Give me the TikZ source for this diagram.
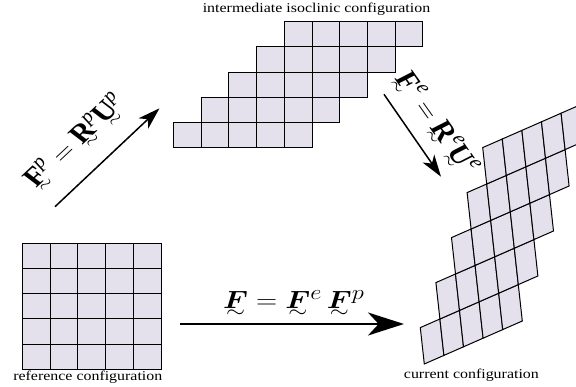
\documentclass[tikz,border=0pt]{standalone}
\usepackage{amsmath,bm}
\usepackage{graphicx}
\usepackage{fontspec}
\setmainfont{Liberation Serif}
\usetikzlibrary{arrows.meta}
\definecolor{cellfill}{RGB}{229,225,236}
\newcommand{\hstretch}[1]{\scalebox{1.18}[1]{#1}}
\newcommand{\ut}[1]{\mathord{\vtop{\ialign{\hfil##\hfil\crcr$\textstyle#1$\crcr\noalign{\kern.04em\nointerlineskip}$\scriptstyle\sim$\crcr}}}}
\newcommand{\tb}[1]{\text{\bfseries #1}}
\tikzset{
  cellst/.style={fill=cellfill, draw=black, line width=1pt, line join=miter},
  diagarr/.style={-{Stealth[length=22pt,width=14pt,inset=6pt]}, line width=1.5pt},
  bigarr/.style={-{Stealth[length=36pt,width=23pt,inset=10.6pt]}, line width=2.2pt},
  lab/.style={inner sep=0pt, font=\fontsize{13.5}{16}\selectfont},
  mlab/.style={inner sep=0pt}
}
\begin{document}
\begin{tikzpicture}[x=1pt,y=-1pt]
\useasboundingbox (0,0) rectangle (576,387);

% reference configuration
\begin{scope}[shift={(22.4,369.3)}, x={(27.74pt,0pt)}, y={(0pt,25.2pt)}]
  \foreach \r in {0,...,4}{
    \foreach \k in {0,...,4}{
      \filldraw[cellst] (\k,\r) -- (\k+1,\r) -- (\k+1,\r+1) -- (\k,\r+1) -- cycle;
    }
  }
\end{scope}

% intermediate isoclinic configuration
\begin{scope}[shift={(173.3,147.7)}, x={(27.74pt,0pt)}, y={(0pt,25.2pt)}]
  \foreach \r in {0,...,4}{
    \foreach \k in {0,...,4}{
      \filldraw[cellst] (\r+\k,\r) -- (\r+\k+1,\r) -- (\r+\k+1,\r+1) -- (\r+\k,\r+1) -- cycle;
    }
  }
\end{scope}

% current configuration
\begin{scope}
  \clip (0,0) rectangle (576,387);
  \begin{scope}[shift={(424.3,364)}, x={(19.6pt,8.6pt)}, y={(-4pt,36.4pt)}]
    \foreach \r in {0,...,4}{
      \foreach \k in {0,...,4}{
        \filldraw[cellst] (\r+\k,\r) -- (\r+\k+1,\r) -- (\r+\k+1,\r+1) -- (\r+\k,\r+1) -- cycle;
      }
    }
  \end{scope}
\end{scope}

% labels
\node[lab, anchor=base] (tint) at (316.5,12.1) {\hstretch{intermediate isoclinic configuration}};
\node[lab, anchor=base] (tref) at (87.8,380.4) {\hstretch{reference configuration}};
\node[lab, anchor=base] (tcur) at (471.4,378.8) {\hstretch{current configuration}};

% arrows
\coordinate (pA) at (55,206.7);
\coordinate (pB) at (159.5,108.3);
\coordinate (eA) at (384,94.3);
\coordinate (eB) at (441,176.7);
\coordinate (fA) at (180,324);
\coordinate (fB) at (404,324);
\draw[diagarr] (pA) -- (pB);
\draw[diagarr] (eA) -- (eB);
\draw[bigarr] (fA) -- (fB);

% formulas
\node[mlab] (fp) at (77,142) {\hstretch{\rotatebox{48}{\fontsize{26.5}{32}\selectfont $\ut{\tb{F}}^{\textit{p}} = \ut{\tb{R}}^{\textit{p}}\ut{\tb{U}}^{\textit{p}}$}}};
\node[mlab] (fe) at (435,124) {\hstretch{\rotatebox{-59}{\fontsize{26.5}{32}\selectfont $\ut{\tb{F}}^{\textit{e}} = \ut{\tb{R}}^{\textit{e}}\ut{\tb{U}}^{\textit{e}}$}}};
\node[mlab, anchor=base] (ff) at (293.8,308.3) {\hstretch{\fontsize{32}{38}\selectfont $\ut{\bm{F}} = \ut{\bm{F}}^{e}\,\ut{\bm{F}}^{p}$}};
\end{tikzpicture}
\end{document}
